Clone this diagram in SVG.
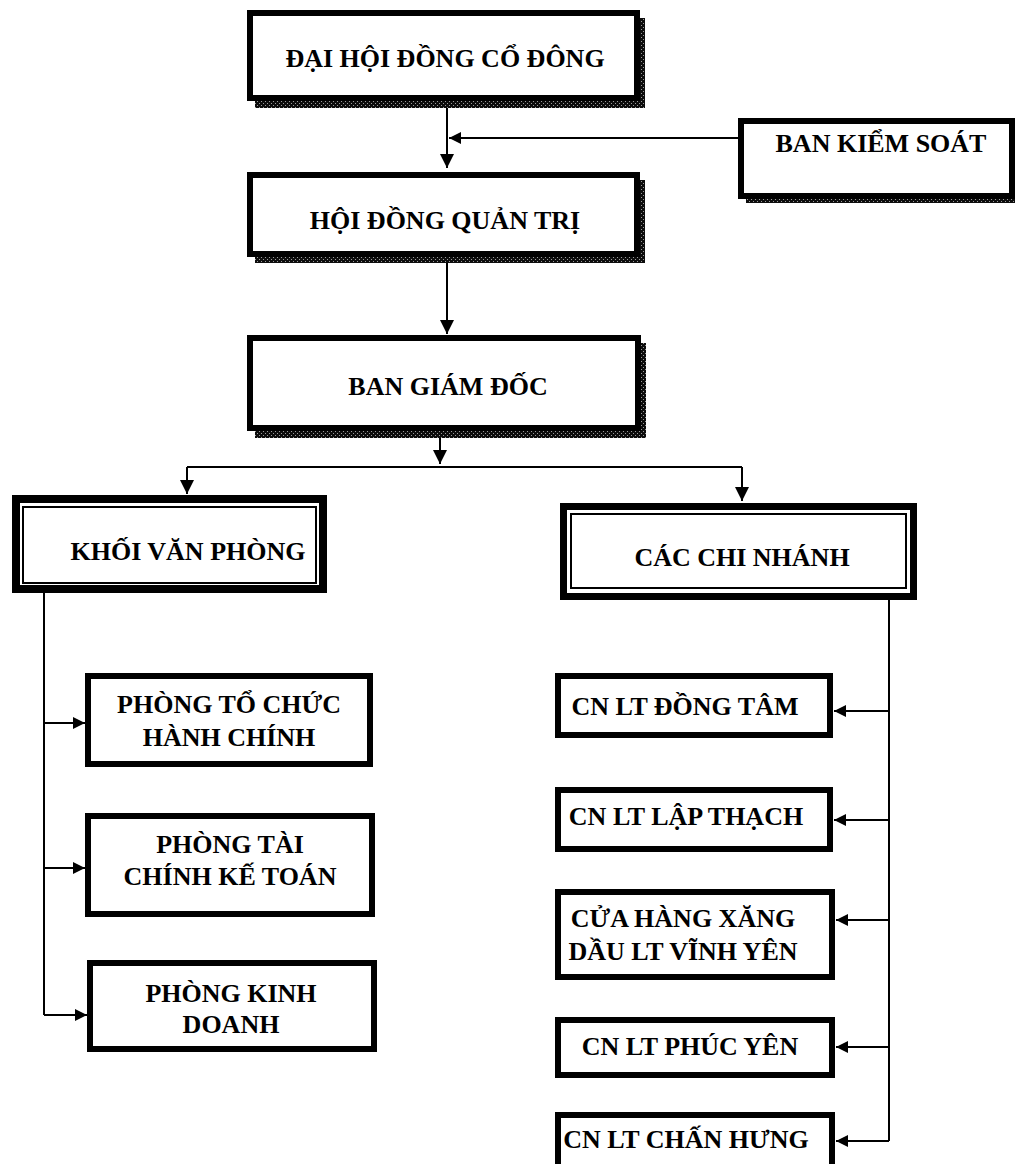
<svg xmlns="http://www.w3.org/2000/svg" width="1015" height="1164" viewBox="0 0 1015 1164">
<style>
.t{font-family:"Liberation Serif","Times New Roman",serif;font-weight:bold;font-size:26px;fill:#000;text-anchor:middle}
.box{fill:#fff;stroke:#000;stroke-width:6}
.sbox{fill:#fff;stroke:#000;stroke-width:6}
.shadow{fill:url(#dots)}
.ln{fill:none;stroke:#000;stroke-width:2}
</style>
<defs>
<pattern id="dots" width="4" height="4" patternUnits="userSpaceOnUse">
<rect width="4" height="4" fill="#0d0d0d"/>
<rect x="1" y="1" width="1" height="1" fill="#9a9a9a"/>
<rect x="3" y="3" width="1" height="1" fill="#9a9a9a"/>
</pattern>
<marker id="ah" viewBox="0 0 10 10" refX="10" refY="5" markerWidth="16" markerHeight="14" markerUnits="userSpaceOnUse" orient="auto">
<path d="M0,0 L10,5 L0,10 z" fill="#000"/>
</marker>
<marker id="ahs" viewBox="0 0 10 10" refX="10" refY="5" markerWidth="13" markerHeight="12" markerUnits="userSpaceOnUse" orient="auto">
<path d="M0,0 L10,5 L0,10 z" fill="#000"/>
</marker>
</defs>

<g id="connectors">
<path class="ln" d="M447,100 V168" marker-end="url(#ah)"/>
<path class="ln" d="M740,138 H449" marker-end="url(#ahs)"/>
<path class="ln" d="M447,262 V334" marker-end="url(#ah)"/>
<path class="ln" d="M440,438 V464" marker-end="url(#ah)"/>
<path class="ln" d="M187,467 H742"/>
<path class="ln" d="M187,467 V494" marker-end="url(#ah)"/>
<path class="ln" d="M742,467 V501" marker-end="url(#ah)"/>
<path class="ln" d="M44,593 V1015"/>
<path class="ln" d="M44,723 H85" marker-end="url(#ahs)"/>
<path class="ln" d="M44,868 H85" marker-end="url(#ahs)"/>
<path class="ln" d="M44,1015 H87" marker-end="url(#ahs)"/>
<path class="ln" d="M889,600 V1141"/>
<path class="ln" d="M889,711 H834" marker-end="url(#ahs)"/>
<path class="ln" d="M889,820 H834" marker-end="url(#ahs)"/>
<path class="ln" d="M889,920 H836" marker-end="url(#ahs)"/>
<path class="ln" d="M889,1047 H836" marker-end="url(#ahs)"/>
<path class="ln" d="M889,1141 H836" marker-end="url(#ahs)"/>
</g>

<g id="dai-hoi-dong-co-dong">
<rect class="shadow" x="255" y="18" width="390" height="90"/>
<rect class="box" x="250" y="13" width="387" height="85"/>
<text class="t" x="445" y="67">ĐẠI HỘI ĐỒNG CỔ ĐÔNG</text>
</g>

<g id="ban-kiem-soat">
<rect class="shadow" x="746" y="126" width="275" height="77"/>
<rect class="box" x="741" y="121" width="271" height="75"/>
<text class="t" x="881" y="152">BAN KIỂM SOÁT</text>
</g>

<g id="hoi-dong-quan-tri">
<rect class="shadow" x="255" y="180" width="390" height="83"/>
<rect class="box" x="250" y="175" width="387" height="79"/>
<text class="t" x="445" y="229">HỘI ĐỒNG QUẢN TRỊ</text>
</g>

<g id="ban-giam-doc">
<rect class="shadow" x="255" y="343" width="391" height="95"/>
<rect class="box" x="250" y="338" width="388" height="90"/>
<text class="t" x="448" y="395">BAN GIÁM ĐỐC</text>
</g>

<g id="khoi-van-phong">
<rect x="16" y="499" width="307" height="90" fill="#fff" stroke="#000" stroke-width="8"/>
<rect x="23" y="507" width="293" height="76" fill="none" stroke="#000" stroke-width="2"/>
<text class="t" x="188" y="560">KHỐI VĂN PHÒNG</text>
</g>

<g id="cac-chi-nhanh">
<rect x="563.5" y="506.5" width="350" height="90" fill="#fff" stroke="#000" stroke-width="7"/>
<rect x="571" y="514" width="335" height="74" fill="none" stroke="#000" stroke-width="2"/>
<text class="t" x="742" y="566">CÁC CHI NHÁNH</text>
</g>

<g id="phong-to-chuc-hanh-chinh">
<rect class="sbox" x="88" y="676" width="282" height="88"/>
<text class="t" x="229" y="713">PHÒNG TỔ CHỨC</text>
<text class="t" x="229" y="746">HÀNH CHÍNH</text>
</g>

<g id="phong-tai-chinh-ke-toan">
<rect class="sbox" x="88" y="816" width="284" height="98"/>
<text class="t" x="230" y="853">PHÒNG TÀI</text>
<text class="t" x="230" y="885">CHÍNH KẾ TOÁN</text>
</g>

<g id="phong-kinh-doanh">
<rect class="sbox" x="90" y="963" width="284" height="86"/>
<text class="t" x="231" y="1002">PHÒNG KINH</text>
<text class="t" x="231" y="1033">DOANH</text>
</g>

<g id="cn-lt-dong-tam">
<rect class="sbox" x="558" y="676" width="272" height="59"/>
<text class="t" x="685" y="715">CN LT ĐỒNG TÂM</text>
</g>

<g id="cn-lt-lap-thach">
<rect class="sbox" x="558" y="790" width="272" height="59"/>
<text class="t" x="686" y="825">CN LT LẬP THẠCH</text>
</g>

<g id="cua-hang-xang-dau-lt-vinh-yen">
<rect class="sbox" x="558" y="892" width="274" height="85"/>
<text class="t" x="683" y="927">CỬA HÀNG XĂNG</text>
<text class="t" x="683" y="960">DẦU LT VĨNH YÊN</text>
</g>

<g id="cn-lt-phuc-yen">
<rect class="sbox" x="558" y="1020" width="274" height="55"/>
<text class="t" x="690" y="1055">CN LT PHÚC YÊN</text>
</g>

<g id="cn-lt-chan-hung">
<rect class="sbox" x="558" y="1115" width="274" height="60"/>
<text class="t" x="686" y="1148">CN LT CHẤN HƯNG</text>
</g>
</svg>
